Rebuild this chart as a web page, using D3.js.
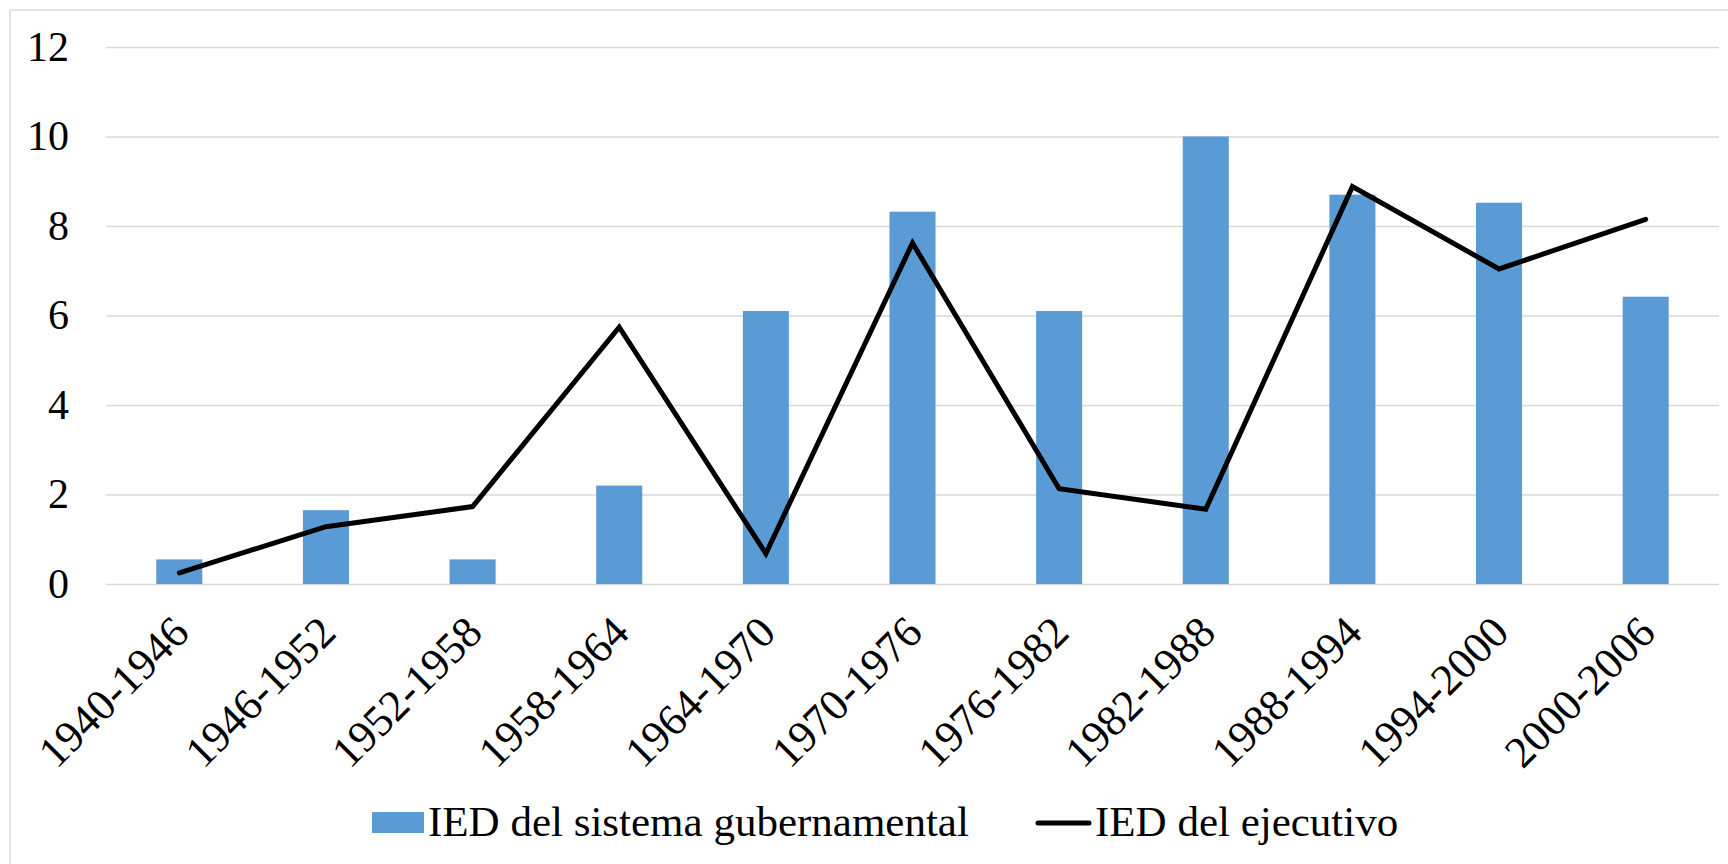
<!DOCTYPE html>
<html><head><meta charset="utf-8">
<script src="https://cdn.jsdelivr.net/npm/d3@7"></script>
<style>html,body{margin:0;padding:0;background:#fff;}svg{display:block;}</style>
</head><body>
<script>
const categories = ["1940-1946","1946-1952","1952-1958","1958-1964","1964-1970","1970-1976","1976-1982","1982-1988","1988-1994","1994-2000","2000-2006"];
const sistemaValues = [0.55, 1.65, 0.55, 2.2, 6.1, 8.32, 6.1, 10.0, 8.7, 8.52, 6.42];
const ejecutivoValues = [0.25, 1.28, 1.73, 5.74, 0.68, 7.62, 2.13, 1.67, 8.88, 7.04, 8.15];
const yTicks = [0, 2, 4, 6, 8, 10, 12];
const seriesNames = ["IED del sistema gubernamental", "IED del ejecutivo"];

const W = 1728, H = 864;
const FONT = "Liberation Serif";
const svg = d3.select("body").append("svg").attr("width", W).attr("height", H);

svg.append("rect").attr("x", 10).attr("y", 10).attr("width", W + 20).attr("height", H + 20)
  .attr("fill", "#fff").attr("stroke", "#d9d9d9").attr("stroke-width", 1.5);

const x = d3.scaleBand().domain(categories).range([106, 1719]).padding(0);
const y = d3.scaleLinear().domain([0, 12]).range([584, 47]);
const barW = x.bandwidth() * 0.314;

// gridlines
const yAxis = d3.axisLeft(y).tickValues(yTicks).tickSize(-(1719 - 106)).tickPadding(37);
const gy = svg.append("g").attr("transform", "translate(106,0)").call(yAxis)
  .attr("font-family", FONT);
gy.select(".domain").remove();
gy.selectAll(".tick line").attr("stroke", "#d9d9d9").attr("stroke-width", 1.5);
gy.selectAll(".tick text").attr("font-family", FONT).attr("font-size", 42).attr("fill", "#000");

// bars
svg.append("g").selectAll("rect").data(categories).join("rect")
  .attr("x", d => x(d) + x.bandwidth() / 2 - barW / 2)
  .attr("y", (d, i) => y(sistemaValues[i]))
  .attr("width", barW)
  .attr("height", (d, i) => y(0) - y(sistemaValues[i]))
  .attr("fill", "#5b9bd5");

// line
const line = d3.line().x((d, i) => x(categories[i]) + x.bandwidth() / 2).y(d => y(d));
svg.append("path").datum(ejecutivoValues).attr("d", line)
  .attr("fill", "none").attr("stroke", "#000").attr("stroke-width", 5)
  .attr("stroke-linejoin", "miter").attr("stroke-linecap", "round");

// x labels
const xAxis = d3.axisBottom(x).tickSize(0).tickPadding(0);
const gx = svg.append("g").attr("transform", "translate(0,584)").call(xAxis)
  .attr("font-family", FONT);
gx.select(".domain").remove();
gx.selectAll(".tick text")
  .attr("font-family", FONT).attr("font-size", 44).attr("fill", "#000")
  .attr("text-anchor", "end")
  .attr("dy", null).attr("y", null)
  .attr("transform", "translate(12,51) rotate(-45)");

// legend
const lg = svg.append("g").attr("font-family", FONT);
lg.append("rect").attr("x", 372).attr("y", 812).attr("width", 52).attr("height", 21).attr("fill", "#5b9bd5");
lg.append("text").attr("x", 428).attr("y", 836).text(seriesNames[0])
  .attr("font-family", FONT).attr("font-size", 43).attr("fill", "#000");
lg.append("line").attr("x1", 1038).attr("x2", 1089).attr("y1", 823).attr("y2", 823)
  .attr("stroke", "#000").attr("stroke-width", 5).attr("stroke-linecap", "round");
lg.append("text").attr("x", 1095).attr("y", 836).text(seriesNames[1])
  .attr("font-family", FONT).attr("font-size", 43).attr("fill", "#000");
</script>
</body></html>
